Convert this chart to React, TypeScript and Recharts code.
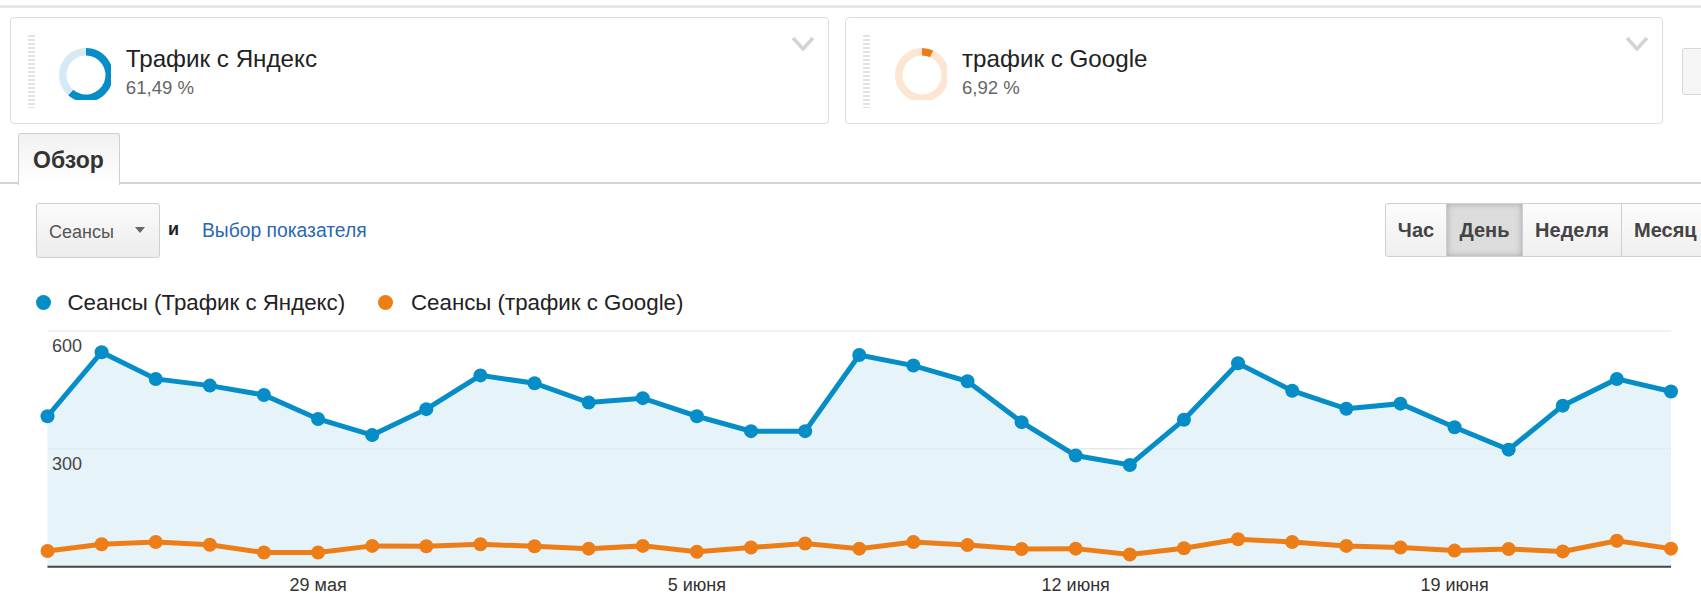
import React from 'react';
import { ComposedChart, Area, Line, XAxis, YAxis, CartesianGrid, ReferenceLine, PieChart, Pie, Cell } from 'recharts';

const dates = [
  '24 мая', '25 мая', '26 мая', '27 мая', '28 мая', '29 мая', '30 мая', '31 мая',
  '1 июня', '2 июня', '3 июня', '4 июня', '5 июня', '6 июня', '7 июня', '8 июня',
  '9 июня', '10 июня', '11 июня', '12 июня', '13 июня', '14 июня', '15 июня', '16 июня',
  '17 июня', '18 июня', '19 июня', '20 июня', '21 июня', '22 июня', '23 июня',
];
const yandexSessions = [383, 546, 478, 461, 437, 376, 335, 401, 487, 467, 418, 429, 383, 345, 345, 539, 512, 472, 368, 283, 259, 374, 518, 448, 402, 415, 355, 298, 410, 478, 446];
const googleSessions = [40, 57, 63, 56, 36, 36, 53, 52, 57, 52, 46, 53, 38, 49, 59, 46, 63, 55, 45, 46, 31, 47, 70, 63, 53, 49, 41, 45, 39, 66, 46];
const xTicks = ['29 мая', '5 июня', '12 июня', '19 июня'];
const yTicks = [300, 600];
const segmentNames = ['Трафик с Яндекс', 'трафик с Google'];
const segmentShares = [61.49, 6.92];
const seriesNames = ['Сеансы (Трафик с Яндекс)', 'Сеансы (трафик с Google)'];
const periods = ['Час', 'День', 'Неделя', 'Месяц'];
const activePeriod = 'День';

const FONT = "'Liberation Sans', Arial, sans-serif";
const BLUE = '#058dc7';
const ORANGE = '#ed7e17';

const chartData = dates.map((d, i) => ({ date: d, yandex: yandexSessions[i], google: googleSessions[i] }));

const renderXTick = (props: any) => {
  const { x, payload } = props;
  return (
    <text x={x} y={285} textAnchor="middle" dominantBaseline="central" fontSize={18} fill="#333" fontFamily={FONT}>
      {payload.value}
    </text>
  );
};

const renderYTick = (props: any) => {
  const { y, payload } = props;
  return (
    <text x={52} y={y + 15.3} textAnchor="start" dominantBaseline="central" fontSize={18} fill="#444" fontFamily={FONT}>
      {payload.value}
    </text>
  );
};

const Donut = ({ share, color, light, cx, cy }: any) => {
  const data = [
    { name: 'a', value: share },
    { name: 'b', value: 100 - share },
  ];
  return (
    <div style={{ position: 'absolute', left: cx - 30, top: cy - 30, width: 60, height: 60 }}>
      <PieChart width={60} height={60}>
        <Pie data={data} dataKey="value" cx={30} cy={30} innerRadius={19.5} outerRadius={27} startAngle={90} endAngle={-270} stroke="none" isAnimationActive={false}>
          <Cell fill={color} />
          <Cell fill={light} />
        </Pie>
      </PieChart>
    </div>
  );
};

const Chevron = ({ x }: any) => (
  <svg style={{ position: 'absolute', left: x, top: 36 }} width={24} height={16}>
    <polyline points="2,2 12,13 22,2" fill="none" stroke="#d3d3d3" strokeWidth={3.5} />
  </svg>
);

const Handle = ({ x }: any) => (
  <div
    style={{
      position: 'absolute', left: x, top: 35, width: 7, height: 73,
      background: 'repeating-linear-gradient(to bottom, #e2e2e2 0px, #e2e2e2 2px, transparent 2px, transparent 4px)',
    }}
  />
);

const Card = ({ left, width, idx, color, light, donutX }: any) => (
  <>
    <div style={{ position: 'absolute', left, top: 17, width, height: 105, border: '1px solid #dcdcdc', borderRadius: 4, background: '#fff' }} />
    <Handle x={left + 18} />
    <Donut share={segmentShares[idx]} color={color} light={light} cx={donutX} cy={69.5} />
    <div style={{ position: 'absolute', left: donutX + 45, top: 43.5, lineHeight: '30px', fontSize: 24.2, color: '#222', whiteSpace: 'nowrap' }}>
      {segmentNames[idx]}
    </div>
    <div style={{ position: 'absolute', left: donutX + 45, top: 75.5, lineHeight: '24px', fontSize: 18.6, color: '#666', whiteSpace: 'nowrap' }}>
      {segmentShares[idx].toFixed(2).replace('.', ',')} %
    </div>
    <Chevron x={left + width - 36} />
  </>
);

const periodWidths = [62, 76, 99, 100];

export default function App() {
  return (
    <div style={{ position: 'absolute', left: 0, top: 0, width: 1701, height: 596, overflow: 'hidden', background: '#fff', fontFamily: FONT }}>
      <div style={{ position: 'absolute', left: 0, top: 5, width: 1701, height: 3, background: '#e6e6e6' }} />

      <Card left={10} width={817} idx={0} color={BLUE} light="#d5eaf5" donutX={80.8} />
      <Card left={845} width={816} idx={1} color={ORANGE} light="#fce5d1" donutX={917} />
      <div style={{ position: 'absolute', left: 1682, top: 48, width: 40, height: 45, border: '1px solid #d8d8d8', borderRadius: 3, background: '#f6f6f6' }} />

      <div style={{ position: 'absolute', left: 0, top: 182, width: 1701, height: 2, background: '#d4d4d4' }} />
      <div style={{ position: 'absolute', left: 18, top: 133, width: 100, height: 51, border: '1px solid #cfcfcf', borderBottom: 'none', borderRadius: '3px 3px 0 0', background: 'linear-gradient(#f1f1f1, #fff)' }} />
      <div style={{ position: 'absolute', left: 33, top: 145, lineHeight: '30px', fontSize: 23, fontWeight: 'bold', color: '#333' }}>Обзор</div>

      <div style={{ position: 'absolute', left: 36, top: 203, width: 122, height: 53, border: '1px solid #cfcfcf', borderRadius: 3, background: 'linear-gradient(#fbfbfb, #ececec)' }} />
      <div style={{ position: 'absolute', left: 49, top: 219.5, lineHeight: '24px', fontSize: 18, color: '#555' }}>{'Сеансы'}</div>
      <div style={{ position: 'absolute', left: 135, top: 227, width: 0, height: 0, borderLeft: '5px solid transparent', borderRight: '5px solid transparent', borderTop: '6px solid #666' }} />
      <div style={{ position: 'absolute', left: 168, top: 217, lineHeight: '24px', fontSize: 18, fontWeight: 'bold', color: '#222' }}>и</div>
      <div style={{ position: 'absolute', left: 202, top: 219, lineHeight: '24px', fontSize: 19.3, color: '#2a68b0', whiteSpace: 'nowrap' }}>Выбор показателя</div>

      <div style={{ position: 'absolute', left: 1385, top: 203, height: 54, display: 'flex', whiteSpace: 'nowrap' }}>
        {periods.map((p, i) => {
          const active = p === activePeriod;
          return (
            <div
              key={p}
              style={{
                width: periodWidths[i], height: 54, boxSizing: 'border-box',
                border: '1px solid #cfcfcf', borderLeftWidth: i === 0 ? 1 : 0,
                borderRadius: i === 0 ? '3px 0 0 3px' : 0,
                background: active ? '#dcdcdc' : 'linear-gradient(#fcfcfc, #efefef)',
                boxShadow: active ? 'inset 0 0 6px rgba(0,0,0,0.25)' : 'none',
                fontSize: 20, fontWeight: 'bold', color: '#444',
                lineHeight: '52px', textAlign: i === 3 ? 'left' : 'center', paddingLeft: i === 3 ? 12 : 0,
              }}
            >
              {p}
            </div>
          );
        })}
      </div>

      <div style={{ position: 'absolute', left: 36, top: 295, width: 15, height: 15, borderRadius: 8, background: BLUE }} />
      <div style={{ position: 'absolute', left: 67.5, top: 288, lineHeight: '30px', fontSize: 22.3, color: '#222', whiteSpace: 'nowrap' }}>{seriesNames[0]}</div>
      <div style={{ position: 'absolute', left: 378, top: 295, width: 15, height: 15, borderRadius: 8, background: ORANGE }} />
      <div style={{ position: 'absolute', left: 411, top: 288, lineHeight: '30px', fontSize: 22.3, color: '#222', whiteSpace: 'nowrap' }}>{seriesNames[1]}</div>

      <div style={{ position: 'absolute', left: 0, top: 300, width: 1701, height: 296 }}>
        <ComposedChart width={1701} height={296} data={chartData} margin={{ top: 31, right: 30, bottom: 0, left: 46.5 }}>
          <CartesianGrid vertical={false} stroke="#e4e4e4" strokeWidth={1} />
          <XAxis
            dataKey="date"
            scale="point"
            padding={{ left: 0, right: 0 }}
            ticks={xTicks}
            tickLine={false}
            axisLine={{ stroke: '#444', strokeWidth: 2 }}
            height={29.3}
            tick={renderXTick}
            interval={0}
          />
          <YAxis
            width={1}
            domain={[0, 600]}
            ticks={yTicks}
            interval={0}
            axisLine={false}
            tickLine={false}
            tick={renderYTick}
            orientation="left"
          />
          <Area
            type="linear"
            dataKey="yandex"
            stroke={BLUE}
            strokeWidth={5}
            fill="#e6f3f9"
            fillOpacity={1}
            dot={{ r: 7, fill: BLUE, stroke: BLUE, strokeWidth: 0 }}
            activeDot={false}
            isAnimationActive={false}
          />
          <Line
            type="linear"
            dataKey="google"
            stroke={ORANGE}
            strokeWidth={5}
            dot={{ r: 7, fill: ORANGE, stroke: ORANGE, strokeWidth: 0 }}
            activeDot={false}
            isAnimationActive={false}
          />
          <ReferenceLine y={yTicks[0]} stroke="#000" strokeOpacity={0.04} strokeWidth={1} />
        </ComposedChart>
      </div>
    </div>
  );
}
